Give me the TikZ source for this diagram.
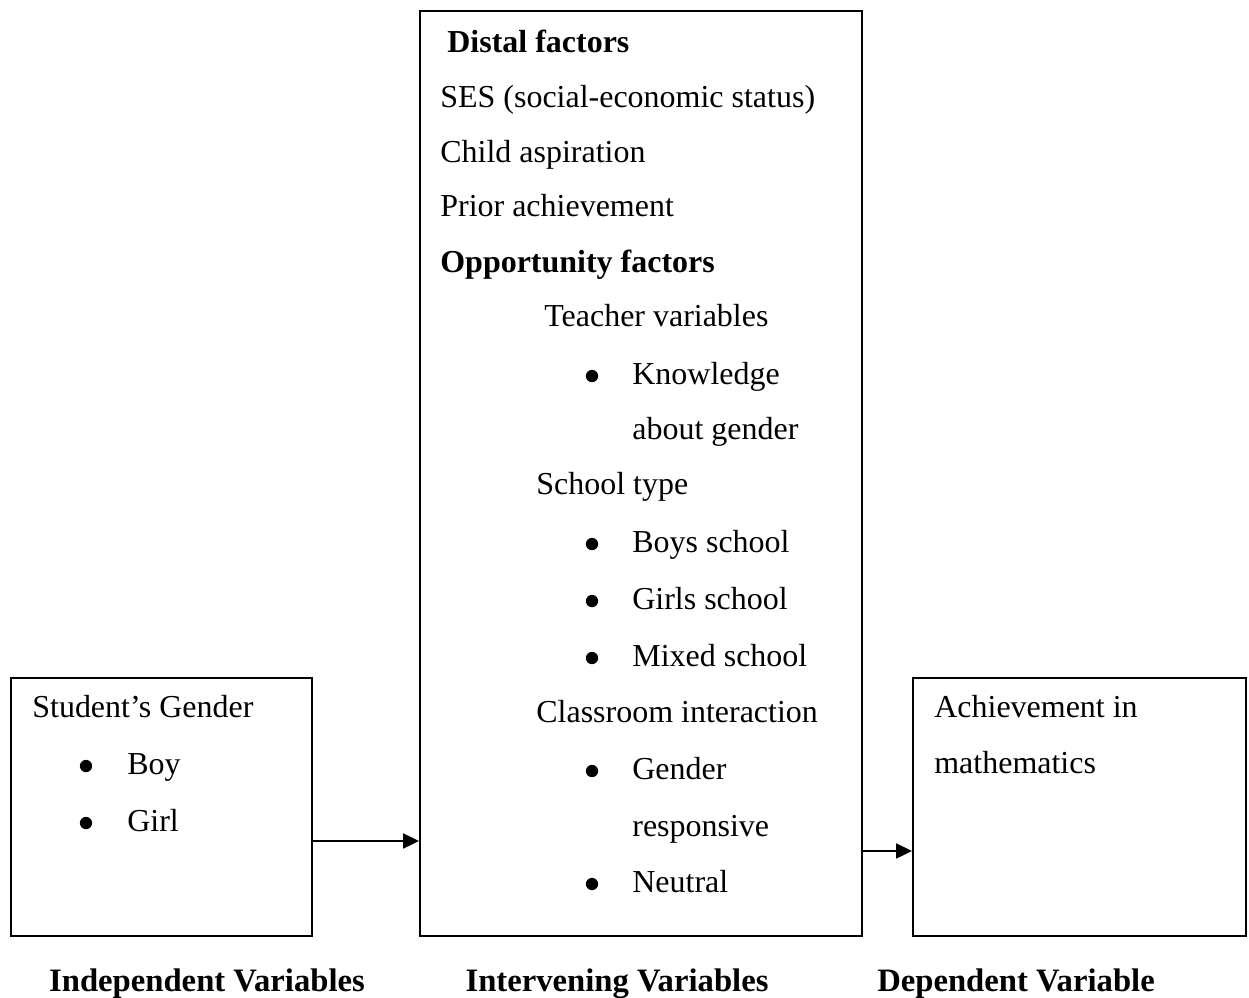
\documentclass[tikz,border=0pt]{standalone}
\usepackage{fontspec}
\setmainfont{Liberation Serif}
\usetikzlibrary{arrows.meta, positioning}

\begin{document}
\begin{tikzpicture}[x=0.02cm, y=-0.02cm, font=\fontsize{18.2}{21}\selectfont]
    \tikzstyle{varbox} = [rectangle, draw=black, line width=1.1pt, inner sep=0pt]
    \tikzstyle{line} = [anchor=base west, inner sep=0pt]
    \tikzstyle{head} = [line, font=\fontsize{18.2}{21}\selectfont\bfseries]
    \tikzstyle{dot} = [circle, fill=black, minimum size=7pt, inner sep=0pt]
    \tikzstyle{caption} = [anchor=base, inner sep=0pt, font=\fontsize{18.6}{22}\selectfont\bfseries]
    \tikzstyle{arrow} = [line width=1.1pt, -{Triangle[length=9pt, width=8.5pt]}]

    \useasboundingbox (0,0) rectangle (1249,998);

    % the three boxes
    \node (indep) [varbox, minimum width=301*0.02cm, minimum height=258*0.02cm, anchor=north west] at (10,677) {};
    \node (interv) [varbox, minimum width=442*0.02cm, minimum height=925*0.02cm, anchor=north west] at (419,10) {};
    \node (dep) [varbox, minimum width=333*0.02cm, minimum height=258*0.02cm, anchor=north west] at (912,677) {};

    % independent variable
    \node (gender) [line] at (32,717) {Student’s Gender};
    \node (boydot) [dot] at (86,766) {};
    \node (boy) [line] at (127,774) {Boy};
    \node (girldot) [dot] at (86,823) {};
    \node (girl) [line] at (127,831) {Girl};

    % intervening variables
    \node (distal) [head] at (447,52) {Distal factors};
    \node (ses) [line] at (440,107) {SES (social-economic status)};
    \node (aspire) [line] at (440,162) {Child aspiration};
    \node (prior) [line] at (440,216) {Prior achievement};
    \node (opport) [head] at (440,272) {Opportunity factors};
    \node (teacher) [line] at (544,326) {Teacher variables};
    \node (knowdot) [dot] at (592,376) {};
    \node (know) [line] at (632,384) {Knowledge};
    \node (know2) [line] at (632,439) {about gender};
    \node (school) [line] at (536,494) {School type};
    \node (boysdot) [dot] at (592,544) {};
    \node (boys) [line] at (632,552) {Boys school};
    \node (girlsdot) [dot] at (592,601) {};
    \node (girls) [line] at (632,609) {Girls school};
    \node (mixdot) [dot] at (592,658) {};
    \node (mixed) [line] at (632,666) {Mixed school};
    \node (class) [line] at (536,722) {Classroom interaction};
    \node (respdot) [dot] at (592,771) {};
    \node (resp) [line] at (632,779) {Gender};
    \node (resp2) [line] at (632,836) {responsive};
    \node (neutdot) [dot] at (592,884) {};
    \node (neutral) [line] at (632,892) {Neutral};

    % dependent variable
    \node (achieve) [line] at (934,717) {Achievement in};
    \node (maths) [line] at (934,773) {mathematics};

    % captions
    \node (capindep) [caption] at (207,991) {Independent Variables};
    \node (capinterv) [caption] at (617,991) {Intervening Variables};
    \node (capdep) [caption] at (1016,991) {Dependent Variable};

    \coordinate (a1) at (indep.east |- 0,841);
    \coordinate (a2) at (interv.east |- 0,851);
    \draw [arrow] (a1) -- (interv.west |- a1);
    \draw [arrow] (a2) -- (dep.west |- a2);
\end{tikzpicture}
\end{document}
